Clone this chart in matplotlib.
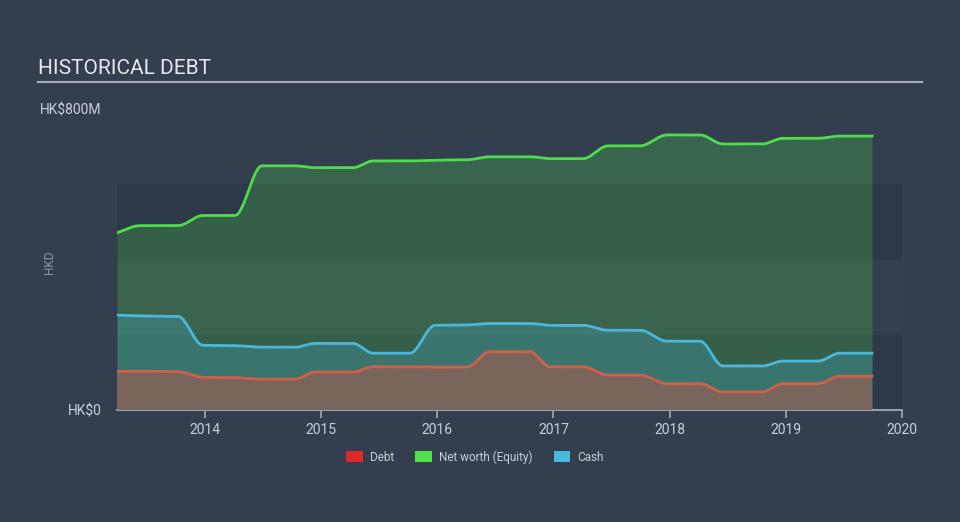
import numpy as np
import matplotlib
matplotlib.use("Agg")
import matplotlib.pyplot as plt
from matplotlib.patches import Patch

# ---------------- data (HK$ millions) ----------------
dates = [2013.243, 2013.441, 2013.768, 2013.983, 2014.259, 2014.491, 2014.775,
         2014.947, 2015.274, 2015.447, 2015.765, 2015.980, 2016.256, 2016.454,
         2016.798, 2016.970, 2017.254, 2017.470, 2017.745, 2017.977, 2018.261,
         2018.459, 2018.795, 2018.976, 2019.277, 2019.466, 2019.742]
equity = [471, 490, 490, 517, 517, 649, 649, 644, 644, 662, 662, 664, 665, 673,
          673, 668, 668, 702, 702, 731, 731, 707, 707, 722, 722, 728, 728]
cash = [252, 250, 249, 172, 171, 167, 167, 177, 177, 151, 151, 225, 226, 230,
        230, 225, 225, 212, 212, 183, 183, 117, 117, 130, 130, 151, 151]
debt = [103, 103, 102, 87, 86, 82, 82, 101, 101, 115, 115, 114, 114, 155,
        155, 115, 115, 93, 93, 70, 70, 48, 48, 70, 70, 90, 90]
year_ticks = [2014, 2015, 2016, 2017, 2018, 2019, 2020]
y_ticks = [0, 800]
y_tick_labels = ["HK$0", "HK$800M"]
legend_labels = ["Debt", "Net worth (Equity)", "Cash"]


def monotone(x, y, xs):
    """Monotone cubic (Fritsch-Carlson) curve through the points, for drawing."""
    x = np.asarray(x, float)
    y = np.asarray(y, float)
    h = np.diff(x)
    d = np.diff(y) / h
    n = len(x)
    m = np.zeros(n)
    m[0], m[-1] = d[0], d[-1]
    for k in range(1, n - 1):
        if d[k - 1] * d[k] <= 0:
            m[k] = 0.0
        else:
            w1 = 2 * h[k] + h[k - 1]
            w2 = h[k] + 2 * h[k - 1]
            m[k] = (w1 + w2) / (w1 / d[k - 1] + w2 / d[k])
    idx = np.clip(np.searchsorted(x, xs) - 1, 0, n - 2)
    t = (xs - x[idx]) / h[idx]
    h00 = 2 * t**3 - 3 * t**2 + 1
    h10 = t**3 - 2 * t**2 + t
    h01 = -2 * t**3 + 3 * t**2
    h11 = t**3 - t**2
    return (h00 * y[idx] + h10 * h[idx] * m[idx] +
            h01 * y[idx + 1] + h11 * h[idx] * m[idx + 1])


BG = "#333f4f"
DARK = "#2d3848"
MID = "#343f4f"
GREEN = "#4fdc4b"
BLUE = "#4ab8dc"
RED = "#d0604a"
TXT = "#c9ced6"

plt.rcParams["font.family"] = ["Roboto", "DejaVu Sans"]
plt.rcParams["hatch.linewidth"] = 0.9

fig = plt.figure(figsize=(9.6, 5.22), dpi=100, facecolor=BG)
W, H = 960, 522
left, right, top, bottom = 117, 902, 109, 410
ax = fig.add_axes([left / W, 1 - bottom / H, (right - left) / W, (bottom - top) / H])
ax.set_facecolor(BG)
ax.set_xlim(dates[0], 2020.0)
ax.set_ylim(0, 800)

# background bands
ax.axhspan(0, 200, color=DARK, zorder=0, lw=0)
ax.axhspan(200, 400, color=MID, zorder=0, lw=0)
ax.axhspan(400, 600, color=DARK, zorder=0, lw=0)

xs = np.linspace(dates[0], dates[-1], 1500)
eq_s = monotone(dates, equity, xs)
ca_s = monotone(dates, cash, xs)
de_s = monotone(dates, debt, xs)

ax.fill_between(xs, 0, eq_s, color=GREEN, alpha=0.24, lw=0, zorder=1)
ax.fill_between(xs, 0, ca_s, color=BLUE, alpha=0.25, lw=0, zorder=2)
ax.fill_between(xs, 0, de_s, facecolor="#566863", edgecolor="#86645a",
                hatch="/" * 14, lw=0, zorder=3)
ax.plot(xs, eq_s, color=GREEN, lw=2, zorder=5)
ax.plot(xs, ca_s, color=BLUE, lw=2, zorder=5)
ax.plot(xs, de_s, color=RED, lw=2, zorder=5)

# axes styling
for s in ["top", "right", "left"]:
    ax.spines[s].set_visible(False)
ax.spines["bottom"].set_color("#a3abb7")
ax.spines["bottom"].set_linewidth(1.3)
ax.set_xticks(year_ticks)
ax.set_xticklabels([str(y) for y in year_ticks])
ax.tick_params(axis="x", colors="#a3abb7", length=6, width=1.2, labelcolor=TXT,
               labelsize=10, pad=3)
ax.set_yticks(y_ticks)
ax.set_yticklabels(y_tick_labels)
ax.tick_params(axis="y", length=0, labelcolor=TXT, labelsize=10, pad=11)

fig.text(50 / W, 1 - 262 / H, "HKD", rotation=90, color="#8e97a3", fontsize=8.5,
         ha="center", va="center")

# title
fig.text(38 / W, 1 - 69 / H, "HISTORICAL DEBT", color="#e6e8eb", fontsize=15,
         ha="left", va="center")
fig.add_artist(plt.Line2D([38 / W, 922 / W], [1 - 82 / H, 1 - 82 / H],
                          color="#a9adb3", lw=1.5))

handles = [Patch(facecolor="#e0282a", edgecolor="none"),
           Patch(facecolor="#4fe04b", edgecolor="none"),
           Patch(facecolor="#48b8dd", edgecolor="none")]
leg = fig.legend(handles, legend_labels, loc="center", ncol=3,
                 bbox_to_anchor=(475 / W, 1 - 457 / H), frameon=False,
                 fontsize=8.5, handlelength=1.4, handleheight=1.1,
                 handletextpad=0.6, columnspacing=1.8)
for t in leg.get_texts():
    t.set_color(TXT)

fig.savefig("out.png", dpi=100, facecolor=BG)
